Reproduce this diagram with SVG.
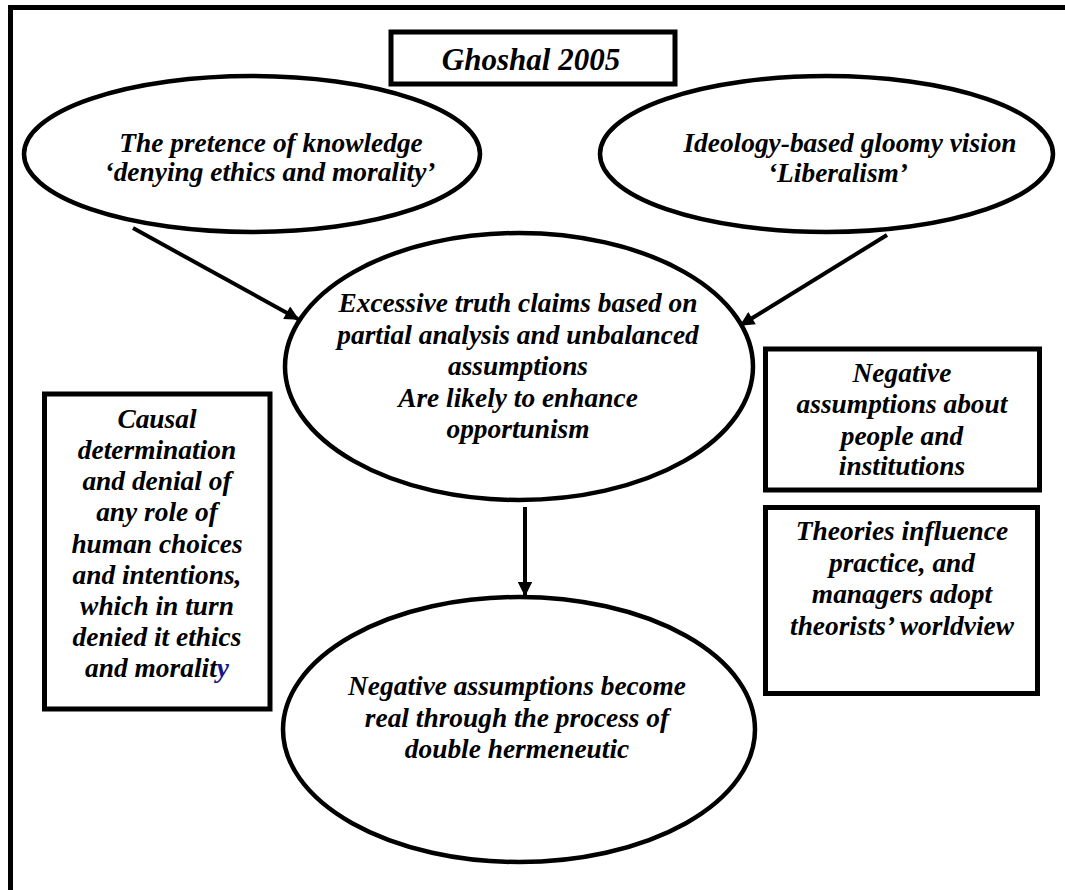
<svg xmlns="http://www.w3.org/2000/svg" width="1065" height="890" viewBox="0 0 1065 890">
  <style>
    .shape { fill: #ffffff; stroke: #000000; }
    .oval { stroke-width: 4.5; }
    .box { stroke-width: 5; }
    .lbl { font-family: "Liberation Serif", "Times New Roman", serif; font-weight: bold; font-style: italic; font-size: 27.4px; fill: #000000; text-anchor: middle; }
    .title { font-size: 31px; }
    .edge { stroke: #000000; stroke-width: 4; fill: none; marker-end: url(#head); }
    .hl { fill: #14148c; }
  </style>
  <defs>
    <marker id="head" viewBox="0 0 10 10" refX="9" refY="5" markerWidth="4" markerHeight="3.6" orient="auto" markerUnits="strokeWidth">
      <path d="M0,0 L10,5 L0,10 Z" fill="#000000"/>
    </marker>
  </defs>

  <rect width="1065" height="890" fill="#ffffff"/>

  <!-- page frame: left and top rules only -->
  <path d="M10.5,890 L10.5,7.5 L1065,7.5" fill="none" stroke="#000000" stroke-width="5"/>

  <!-- connectors -->
  <g id="connectors">
    <line class="edge" x1="133" y1="228" x2="298" y2="319"/>
    <line class="edge" x1="887" y1="235" x2="741" y2="325"/>
    <line class="edge" x1="525" y1="507" x2="525" y2="595"/>
  </g>

  <g id="title">
    <rect class="shape box" x="391" y="32" width="284" height="52" stroke-width="4"/>
    <text class="lbl title" x="531" y="70">Ghoshal 2005</text>
  </g>

  <g id="pretence">
    <ellipse class="shape oval" cx="252" cy="154" rx="228" ry="78"/>
    <text class="lbl" x="271" y="152">The pretence of knowledge</text>
    <text class="lbl" x="270" y="181">‘denying ethics and morality’</text>
  </g>

  <g id="ideology">
    <ellipse class="shape oval" cx="826.5" cy="154" rx="226.5" ry="78"/>
    <text class="lbl" x="850" y="152">Ideology-based gloomy vision</text>
    <text class="lbl" x="838" y="182">‘Liberalism’</text>
  </g>

  <g id="truth-claims">
    <ellipse class="shape oval" cx="519" cy="366.5" rx="234" ry="133.5"/>
    <text class="lbl" x="518" y="312">Excessive truth claims based on</text>
    <text class="lbl" x="518" y="343.5">partial analysis and unbalanced</text>
    <text class="lbl" x="518" y="375">assumptions</text>
    <text class="lbl" x="518" y="406.5">Are likely to enhance</text>
    <text class="lbl" x="518" y="438">opportunism</text>
  </g>

  <g id="double-hermeneutic">
    <ellipse class="shape oval" cx="519" cy="729.5" rx="236" ry="132.5"/>
    <text class="lbl" x="517" y="695">Negative assumptions become</text>
    <text class="lbl" x="517" y="727">real through the process of</text>
    <text class="lbl" x="517" y="758">double hermeneutic</text>
  </g>

  <g id="causal-determination">
    <rect class="shape box" x="44.5" y="394" width="225.5" height="315"/>
    <text class="lbl" x="157" y="428">Causal</text>
    <text class="lbl" x="157" y="459">determination</text>
    <text class="lbl" x="157" y="490">and denial of</text>
    <text class="lbl" x="157" y="521">any role of</text>
    <text class="lbl" x="157" y="552.5">human choices</text>
    <text class="lbl" x="157" y="583.5">and intentions,</text>
    <text class="lbl" x="157" y="614.5">which in turn</text>
    <text class="lbl" x="157" y="645.5">denied it ethics</text>
    <text class="lbl" x="157" y="677">and moralit<tspan class="hl">y</tspan></text>
  </g>

  <g id="negative-assumptions">
    <rect class="shape box" x="765.5" y="349" width="274" height="141"/>
    <text class="lbl" x="902" y="382">Negative</text>
    <text class="lbl" x="902" y="413">assumptions about</text>
    <text class="lbl" x="902" y="444.5">people and</text>
    <text class="lbl" x="902" y="475">institutions</text>
  </g>

  <g id="theories-influence">
    <rect class="shape box" x="765.5" y="507.5" width="272" height="186"/>
    <text class="lbl" x="902" y="540">Theories influence</text>
    <text class="lbl" x="902" y="571.5">practice, and</text>
    <text class="lbl" x="902" y="603">managers adopt</text>
    <text class="lbl" x="902" y="634.5">theorists’ worldview</text>
  </g>
</svg>
